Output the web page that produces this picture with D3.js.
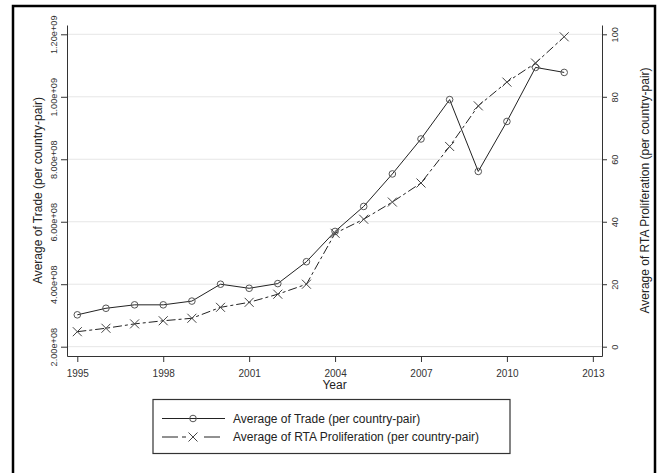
<!DOCTYPE html>
<html>
<head>
<meta charset="utf-8">
<script src="https://cdn.jsdelivr.net/npm/d3@7"></script>
<style>
body { margin:0; background:#fff; }
text { font-family: "Liberation Sans", Arial, sans-serif; }
</style>
</head>
<body>
<script>
// data
var years = [1995,1996,1997,1998,1999,2000,2001,2002,2003,2004,2005,2006,2007,2008,2009,2010,2011,2012]
var trade = [3.02e8,3.23e8,3.34e8,3.34e8,3.46e8,4.00e8,3.87e8,4.02e8,4.72e8,5.69e8,6.49e8,7.53e8,8.65e8,9.91e8,7.61e8,9.21e8,1.094e9,1.078e9]
var rta = [4.8,5.9,7.3,8.3,9.1,12.6,14.2,16.8,20.0,36.3,40.8,46.3,52.4,64.1,77.1,84.7,90.8,99.2]
var xTicks = [1995,1998,2001,2004,2007,2010,2013]
var leftTicks = [2e8,4e8,6e8,8e8,1e9,1.2e9]
var rightTicks = [0,20,40,60,80,100]
var seriesNames = ["Average of Trade (per country-pair)","Average of RTA Proliferation (per country-pair)"]

var W = 657, H = 473
var pLeft = 67, pRight = 602, pTop = 25, pBottom = 356

var svg = d3.select("body").append("svg")
    .attr("width",W)
    .attr("height",H)

// outer frame
svg.append("rect")
    .attr("x",13).attr("y",6)
    .attr("width",642).attr("height",490)
    .attr("fill","none")
    .attr("stroke","#000")
    .attr("stroke-width",2.5)

var x = d3.scaleLinear().domain([1994.64,2013.32]).range([pLeft,pRight])
var yL = d3.scaleLinear().domain([1.702e8,1.2298e9]).range([pBottom,pTop])
var yR = d3.scaleLinear().domain([-2.98,102.98]).range([pBottom,pTop])

// gridlines
svg.append("g").selectAll("line")
    .data(leftTicks).enter().append("line")
    .attr("x1",pLeft).attr("x2",pRight)
    .attr("y1",function(d){return yL(d)})
    .attr("y2",function(d){return yL(d)})
    .attr("stroke","#e6e6e6")
    .attr("stroke-width",1)

function sci(d){
    return d3.format(".2e")(d).replace(/e\+(\d)$/,"e+0$1")
}

var axL = svg.append("g")
    .attr("transform","translate("+pLeft+",0)")
    .call(d3.axisLeft(yL).tickValues(leftTicks).tickFormat(sci).tickSize(6).tickSizeOuter(0))
axL.selectAll("text")
    .attr("transform","rotate(-90)")
    .attr("x",0).attr("y",-10).attr("dy",0)
    .style("text-anchor","middle")
    .style("font-size","9.2px")

var axR = svg.append("g")
    .attr("transform","translate("+pRight+",0)")
    .call(d3.axisRight(yR).tickValues(rightTicks).tickSize(5).tickSizeOuter(0))
axR.selectAll("text")
    .attr("transform","rotate(-90)")
    .attr("x",0).attr("y",16).attr("dy",0)
    .style("text-anchor","middle")
    .style("font-size","9.2px")

var axB = svg.append("g")
    .attr("transform","translate(0,"+pBottom+")")
    .call(d3.axisBottom(x).tickValues(xTicks).tickFormat(d3.format("d")).tickSize(6).tickSizeOuter(0))
axB.selectAll("text")
    .attr("y",21).attr("dy",0)
    .style("font-size","10px")

svg.selectAll(".domain").attr("stroke","#333")
svg.selectAll(".tick line").attr("stroke","#333")
svg.selectAll(".tick text").attr("fill","#333").attr("font-family","Liberation Sans, Arial, sans-serif")

// axis titles
svg.append("text")
    .attr("transform","translate(42,"+((pTop+pBottom)/2)+") rotate(-90)")
    .attr("text-anchor","middle")
    .attr("fill","#222")
    .style("font-size","12px")
    .text("Average of Trade (per country-pair)")

svg.append("text")
    .attr("transform","translate(649,"+((pTop+pBottom)/2)+") rotate(-90)")
    .attr("text-anchor","middle")
    .attr("fill","#222")
    .style("font-size","12px")
    .text("Average of RTA Proliferation (per country-pair)")

svg.append("text")
    .attr("x",(pLeft+pRight)/2).attr("y",389)
    .attr("text-anchor","middle")
    .attr("fill","#222")
    .style("font-size","12px")
    .text("Year")

var dash = "9,3,3,3"

// lines
var lineT = d3.line().x(function(d,i){return x(years[i])}).y(function(d){return yL(d)})
var lineR = d3.line().x(function(d,i){return x(years[i])}).y(function(d){return yR(d)})

svg.append("path").datum(trade)
    .attr("d",lineT)
    .attr("fill","none")
    .attr("stroke","#222")
    .attr("stroke-width",1)

svg.append("path").datum(rta)
    .attr("d",lineR)
    .attr("fill","none")
    .attr("stroke","#222")
    .attr("stroke-width",1)
    .attr("stroke-dasharray",dash)

function circleMark(g,cx,cy){
    g.append("circle")
        .attr("cx",cx).attr("cy",cy).attr("r",3.3)
        .attr("fill","none")
        .attr("stroke","#555")
        .attr("stroke-width",1)
}
function xMark(g,cx,cy){
    var s = 4.5
    g.append("path")
        .attr("d","M"+(cx-s)+","+(cy-s)+"L"+(cx+s)+","+(cy+s)+"M"+(cx-s)+","+(cy+s)+"L"+(cx+s)+","+(cy-s))
        .attr("stroke","#444")
        .attr("stroke-width",1)
}

var marks = svg.append("g")
for(var i=0;i<years.length;i++){
    circleMark(marks,x(years[i]),yL(trade[i]))
}
for(var i=0;i<years.length;i++){
    xMark(marks,x(years[i]),yR(rta[i]))
}

// legend
var leg = svg.append("g")
leg.append("rect")
    .attr("x",153).attr("y",399.5)
    .attr("width",357).attr("height",54)
    .attr("fill","#fff")
    .attr("stroke","#333")
    .attr("stroke-width",1.2)

var rows = [418.5,437]
leg.append("line")
    .attr("x1",162).attr("x2",225).attr("y1",rows[0]).attr("y2",rows[0])
    .attr("stroke","#222")
circleMark(leg,193,rows[0])
leg.append("line")
    .attr("x1",162).attr("x2",225).attr("y1",rows[1]).attr("y2",rows[1])
    .attr("stroke","#222")
    .attr("stroke-dasharray","16,4,4,7,0,100")
leg.append("line")
    .attr("x1",204).attr("x2",225).attr("y1",rows[1]).attr("y2",rows[1])
    .attr("stroke","#222")
    .attr("stroke-dasharray","16,100")
xMark(leg,193,rows[1])

for(var i=0;i<seriesNames.length;i++){
    leg.append("text")
        .attr("x",233).attr("y",rows[i])
        .attr("dy","0.35em")
        .attr("fill","#222")
        .style("font-size","12px")
        .text(seriesNames[i])
}
</script>
</body>
</html>
